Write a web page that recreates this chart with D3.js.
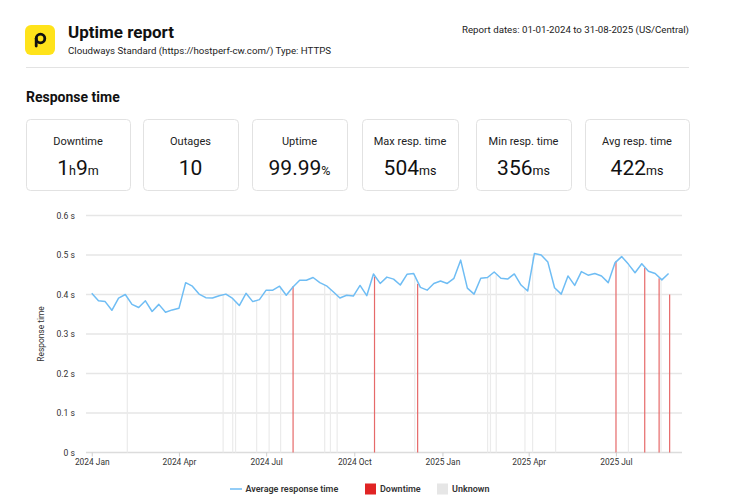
<!DOCTYPE html>
<html><head><meta charset="utf-8">
<script src="https://cdn.jsdelivr.net/npm/d3@7"></script>
<style>
html,body{margin:0;padding:0;background:#fff;}
svg{display:block;font-family:Roboto,"Liberation Sans",sans-serif;}
</style></head>
<body><svg id="c" width="730" height="502"></svg>
<script>
// ---------- data ----------
const seriesStart = "2024-01-01"; // weekly samples
const avgResponse = [0.403,0.384,0.382,0.360,0.391,0.400,0.375,0.367,0.384,0.357,
 0.375,0.355,0.361,0.365,0.430,0.421,0.401,0.392,0.391,0.397,
 0.401,0.390,0.372,0.403,0.382,0.387,0.411,0.411,0.421,0.398,
 0.419,0.436,0.436,0.443,0.430,0.422,0.407,0.391,0.398,0.396,
 0.423,0.397,0.452,0.428,0.444,0.439,0.424,0.451,0.453,0.418,
 0.411,0.428,0.434,0.428,0.441,0.487,0.416,0.401,0.441,0.443,
 0.457,0.441,0.439,0.452,0.424,0.409,0.504,0.500,0.482,0.417,
 0.401,0.447,0.423,0.458,0.449,0.453,0.447,0.430,0.480,0.496,
 0.477,0.455,0.478,0.459,0.453,0.437,0.453];
const unknownDates = ["2024-02-07","2024-05-17","2024-05-27","2024-05-30","2024-06-21","2024-07-04","2024-07-16",
 "2024-08-31","2024-09-06","2024-09-13","2024-12-03","2025-02-17","2025-02-20","2025-02-26","2025-03-28",
 "2025-04-05","2025-04-29","2025-07-14","2025-08-17"];
const unknownValues = [0.390,0.399,0.390,0.382,0.385,0.411,0.417,0.424,0.413,0.396,0.443,0.445,0.451,0.449,0.414,
 0.496,0.412,0.473,0.439];
const downtimeDates = ["2024-07-29","2024-10-22","2024-12-06","2025-07-01","2025-07-31","2025-08-15","2025-08-26"];
const downtimeValues = [0.421,0.445,0.427,0.485,0.467,0.441,0.400];
const xTickLabels = ["2024-01-01","2024-04-01","2024-07-01","2024-10-01","2025-01-01","2025-04-01","2025-07-01"];
const yTicks = [0,0.1,0.2,0.3,0.4,0.5,0.6];
const cardLabels = ["Downtime","Outages","Uptime","Max resp. time","Min resp. time","Avg resp. time"];
const cardValues = [[["1","b"],["h","s"],["9","b"],["m","s"]],[["10","b"]],[["99.99","b"],["%","s"]],
 [["504","b"],["ms","s"]],[["356","b"],["ms","s"]],[["422","b"],["ms","s"]]];
const legendItems = ["Average response time","Downtime","Unknown"];

// ---------- drawing ----------
const parse = d3.timeParse("%Y-%m-%d");
const svg = d3.select("#c");
svg.append("rect").attr("width",730).attr("height",502).attr("fill","#fff");

// header
svg.append("rect").attr("x",25).attr("y",25).attr("width",30).attr("height",30).attr("rx",6).attr("fill","#ffe31a");
svg.append("circle").attr("cx",40.5).attr("cy",38.5).attr("r",4.3).attr("fill","none").attr("stroke","#111").attr("stroke-width",2.8);
svg.append("line").attr("x1",36.2).attr("y1",38.5).attr("x2",36.2).attr("y2",46).attr("stroke","#111").attr("stroke-width",2.8).attr("stroke-linecap","round");
svg.append("text").attr("x",68).attr("y",37.5).attr("font-size",17).attr("font-weight",700).attr("fill","#111").text("Uptime report");
svg.append("text").attr("x",68).attr("y",53.5).attr("font-size",9.7).attr("fill","#222").text("Cloudways Standard (https://hostperf-cw.com/) Type: HTTPS");
svg.append("text").attr("x",689).attr("y",33).attr("text-anchor","end").attr("font-size",9.7).attr("fill","#222").text("Report dates: 01-01-2024 to 31-08-2025 (US/Central)");
svg.append("line").attr("x1",26).attr("x2",689).attr("y1",67.5).attr("y2",67.5).attr("stroke","#e3e3e3").attr("stroke-width",1.2);
svg.append("text").attr("x",26).attr("y",102).attr("font-size",14).attr("font-weight",700).attr("fill","#111").text("Response time");

// cards
const cardX = [[26,130],[143,238],[252,347],[362,458],[476,571],[585,689]];
cardLabels.forEach((lab,i)=>{
  const [x0,x1] = cardX[i], cx=(x0+x1)/2;
  svg.append("rect").attr("x",x0+0.5).attr("y",119.5).attr("width",x1-x0).attr("height",71).attr("rx",4)
    .attr("fill","#fff").attr("stroke","#e2e2e2");
  svg.append("text").attr("x",cx).attr("y",145).attr("text-anchor","middle").attr("font-size",11).attr("fill","#222").text(lab);
  const t = svg.append("text").attr("x",cx).attr("y",174.5).attr("text-anchor","middle").attr("fill","#111");
  cardValues[i].forEach(([s,k])=>t.append("tspan").attr("font-size",k==="b"?21:12.5).text(s));
});

// chart
const m = {l:86,r:682,t:215.5,b:452.5};
const x = d3.scaleTime().domain([parse("2023-12-26"),parse("2025-09-08")]).range([m.l,m.r]);
const y = d3.scaleLinear().domain([0,0.6]).range([m.b,m.t]);
const start = parse(seriesStart);
const pts = avgResponse.map((v,i)=>({d:d3.timeDay.offset(start,i*7),v}));

const g = svg.append("g");
// grid
g.selectAll(".grid").data(yTicks).join("line").attr("x1",m.l).attr("x2",m.r)
  .attr("y1",d=>y(d)).attr("y2",d=>y(d)).attr("stroke",d=>d===0?"#dcdcdc":"#e6e6e6").attr("stroke-width",1.3);

// unknown bars
g.selectAll(".unk").data(unknownDates.map((d,i)=>({d:parse(d),v:unknownValues[i]}))).join("rect")
  .attr("x",d=>x(d.d)-0.5).attr("width",1.2).attr("y",d=>y(d.v)).attr("height",d=>y(0)-y(d.v)).attr("fill","#ebebeb");
// downtime bars
g.selectAll(".dwn").data(downtimeDates.map((d,i)=>({d:parse(d),v:downtimeValues[i]}))).join("rect")
  .attr("x",d=>x(d.d)-0.5).attr("width",1.2).attr("y",d=>y(d.v)).attr("height",d=>y(0)-y(d.v)).attr("fill","#e66a6a");

// line
g.append("path").datum(pts).attr("fill","none").attr("stroke","#6fbdf4").attr("stroke-width",1.5)
  .attr("stroke-linejoin","round").attr("d",d3.line().x(d=>x(d.d)).y(d=>y(d.v)));

// axes
const xa = svg.append("g").attr("transform",`translate(0,${m.b})`)
  .call(d3.axisBottom(x).tickValues(xTickLabels.map(parse)).tickFormat(d3.timeFormat("%Y %b")).tickSize(4).tickPadding(3));
xa.select(".domain").remove();
xa.selectAll("line").attr("stroke","#cfcfcf");
xa.selectAll("text").attr("font-size",8.4).attr("fill","#333").attr("font-family","Roboto,sans-serif");

const ya = svg.append("g").attr("transform",`translate(${m.l},0)`)
  .call(d3.axisLeft(y).tickValues(yTicks).tickFormat(d=>d===0?"0 s":d3.format(".1f")(d)+" s").tickSize(0).tickPadding(11));
ya.select(".domain").remove();
ya.selectAll("text").attr("font-size",8.6).attr("fill","#333").attr("font-family","Roboto,sans-serif");

svg.append("text").attr("transform",`translate(44,${(m.t+m.b)/2}) rotate(-90)`).attr("text-anchor","middle")
  .attr("font-size",8.4).attr("fill","#333").text("Response time");

// legend
const lg = svg.append("g").attr("font-size",9).attr("font-weight",600).attr("fill","#333");
lg.append("line").attr("x1",230).attr("x2",242).attr("y1",489).attr("y2",489).attr("stroke","#6fbdf4").attr("stroke-width",1.5);
lg.append("text").attr("x",245.5).attr("y",492).text(legendItems[0]);
lg.append("rect").attr("x",365).attr("y",483.5).attr("width",11).attr("height",11).attr("fill","#e02424");
lg.append("text").attr("x",380).attr("y",492).text(legendItems[1]);
lg.append("rect").attr("x",437).attr("y",483.5).attr("width",11).attr("height",11).attr("fill","#e6e6e6");
lg.append("text").attr("x",452).attr("y",492).text(legendItems[2]);
</script></body></html>
